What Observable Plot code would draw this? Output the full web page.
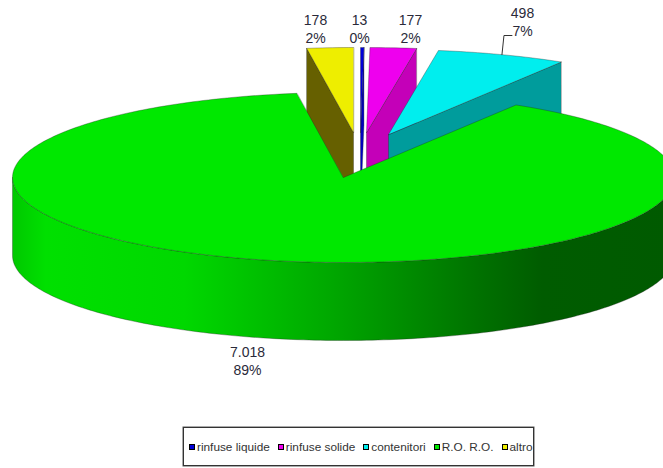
<!DOCTYPE html>
<html>
<head>
<meta charset="utf-8">
<script src="https://cdn.jsdelivr.net/npm/d3@7"></script>
<script src="https://cdn.jsdelivr.net/npm/@observablehq/plot@0.6"></script>
<style>
html,body{margin:0;padding:0;background:#fff;overflow:hidden}
#chart svg{display:block}
#legend{position:absolute;left:183px;top:427px;width:349px;height:37px;border:1px solid #333;box-shadow:0 0 0 .5px #555;
display:flex;align-items:center;font:11.8px "Liberation Sans",Arial,sans-serif;color:#333;box-sizing:content-box;padding:0}
#legend i{display:inline-block;width:4px;height:4px;border:1px solid #000;margin:0 2px 0 5px}
#legend span{display:flex;align-items:center;white-space:nowrap;margin-right:3px}
</style>
</head>
<body>
<div id="chart"></div>
<div id="legend"></div>
<script>
// Data
const categories = ["rinfuse liquide", "rinfuse solide", "contenitori", "R.O. R.O.", "altro"];
const values = [13, 177, 498, 7018, 178];
const percentLabels = ["0%", "2%", "7%", "89%", "2%"];

// Styles
const topColors = ["#0000d8", "#ee00ee", "#00eeee", "#00e800", "#eeee00"];
const sideColors = ["#0000c0", "#c400b8", "#009c9c", "#005a00", "#666000"];

// Layout of the pie
const cx = 343, cy = 177, rx = 331, ry = 85, depth = 78;
const explodeX = [17, 23, 45, 0, 10];
const explodeY = [-45, -45, -43, 0, -45];
const labelX = [359, 410, 522, 247, 315];
const labelY = [28, 28, 21, 360, 28];

const total = d3.sum(values);
const cumulative = d3.cumsum(values);
const rad = (d) => d * Math.PI / 180;
const slices = values.map((v, i) => ({
  i,
  a0: (cumulative[i] - v) / total * 360,
  a1: cumulative[i] / total * 360,
  ox: cx + explodeX[i],
  oy: cy + explodeY[i]
}));
const rimPoint = (s, a, drop = 0) => ({
  x: s.ox + rx * Math.sin(rad(a)),
  y: s.oy - ry * Math.cos(rad(a)) + drop
});
const arc = (s, a0, a1, drop = 0) => d3.range(0, 1.0001, 1 / Math.max(2, Math.ceil(Math.abs(a1 - a0)))).map(t => rimPoint(s, a0 + (a1 - a0) * t, drop));
const topFace = (s) => [{x: s.ox, y: s.oy}, ...arc(s, s.a0, s.a1)];
const cutFace = (s, a) => {
  const p = rimPoint(s, a), q = rimPoint(s, a, depth);
  return [p, {x: s.ox, y: s.oy}, {x: s.ox, y: s.oy + depth}, q];
};
const [liquide, solide, contenitori, roro, altro] = slices;

const edge = {stroke: "#222", strokeWidth: 0.6, strokeOpacity: 0.55, strokeLinejoin: "round"};
const face = (points, fill) => Plot.line(points, {x: "x", y: "y", curve: "linear-closed", fill, ...edge});

// Shading of the pie's outer wall
const wallStops = [[0, "#00c800"], [0.05, "#00e000"], [0.26, "#00d800"], [0.48, "#00a800"], [0.71, "#007000"], [0.8, "#005c00"], [1, "#005a00"]];
const wallGradient = () => {
  const defs = d3.create("svg:defs");
  const g = defs.append("linearGradient").attr("id", "wall").attr("gradientUnits", "userSpaceOnUse")
    .attr("x1", cx - rx).attr("x2", cx + rx).attr("y1", 0).attr("y2", 0);
  wallStops.forEach(([o, c]) => g.append("stop").attr("offset", o).attr("stop-color", c));
  return defs.node();
};
const wall = [...arc(roro, 270, 90), ...arc(roro, 90, 270, depth)];

const itFormat = d3.formatLocale({decimal: ",", thousands: ".", grouping: [3], currency: ["", "€"]}).format(",d");
const labels = categories.map((c, i) => ({
  text: itFormat(values[i]) + "\n" + percentLabels[i],
  x: labelX[i],
  y: labelY[i]
}));

// Leader of the contenitori label: rim midpoint up to the label's height, then across to the text
const mid = rimPoint(contenitori, (contenitori.a0 + contenitori.a1) / 2);
const leader = [mid, {x: mid.x + 2, y: labelY[2] + 14}, {x: mid.x + 10, y: labelY[2] + 14}];

const plot = Plot.plot({
  width: 663,
  height: 427,
  margin: 0,
  x: {domain: [0, 663], range: [0, 663], axis: null},
  y: {domain: [0, 427], range: [0, 427], axis: null},
  marks: [
    wallGradient,
    face(cutFace(liquide, liquide.a1), sideColors[0]),
    face(topFace(liquide), topColors[0]),
    face(cutFace(solide, solide.a1), sideColors[1]),
    face(topFace(solide), topColors[1]),
    face(cutFace(contenitori, contenitori.a1), sideColors[2]),
    face(topFace(contenitori), topColors[2]),
    face(cutFace(altro, altro.a0), sideColors[4]),
    face(topFace(altro), topColors[4]),
    face(wall, "url(#wall)"),
    face(topFace(roro), topColors[3]),
    Plot.line(leader, {x: "x", y: "y", stroke: "#333", strokeWidth: 1}),
    Plot.text(labels, {
      x: "x", y: "y", text: "text",
      fontFamily: "Liberation Sans", fontSize: 14, lineHeight: 1.27,
      textAnchor: "middle", lineAnchor: "middle", fill: "#2a2a3a"
    })
  ]
});
document.getElementById("chart").append(plot);

const legend = d3.select("#legend");
categories.forEach((c, i) => {
  const s = legend.append("span");
  s.append("i").style("background", topColors[i]);
  s.append("b").style("font-weight", "normal").text(c);
});
</script>
</body>
</html>
